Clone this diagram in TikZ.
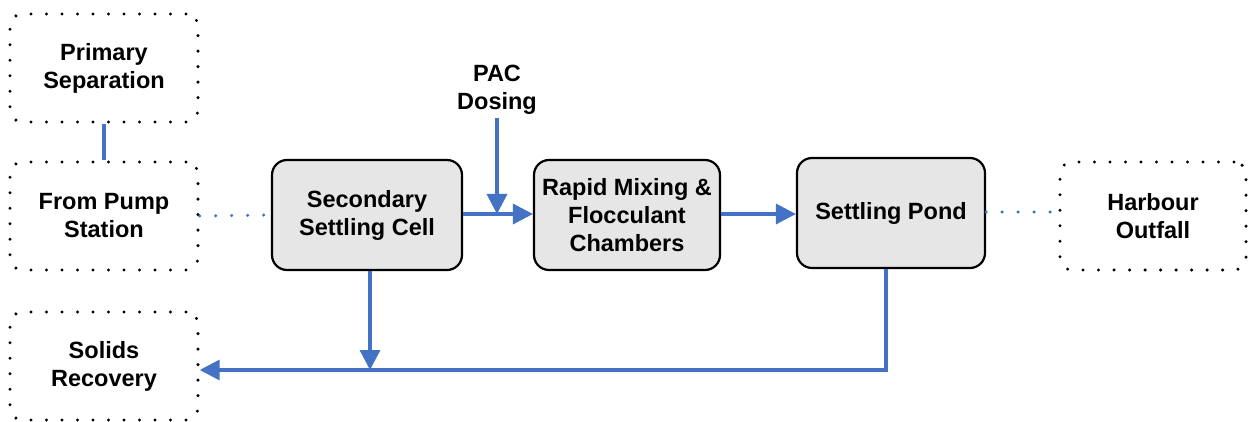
\documentclass[tikz,border=0pt]{standalone}
\usepackage{fontspec}
\setmainfont{Liberation Sans}
\usetikzlibrary{arrows.meta}
\definecolor{flow}{HTML}{4472C4}
\definecolor{boxfill}{HTML}{E6E6E6}
\begin{document}
\begin{tikzpicture}[x=1pt,y=-1pt,
  every node/.style={font=\fontsize{23.5}{28}\selectfont\bfseries, align=center},
  proc/.style={draw=black, line width=2.2pt, fill=boxfill, rounded corners=15pt, minimum width=190pt, minimum height=110pt, inner sep=0pt},
  ext/.style={draw=black, line width=3.4pt, dash pattern=on 0pt off 15.5pt, line cap=round, rounded corners=12pt, minimum width=188pt, minimum height=108pt, inner sep=0pt},
  flowline/.style={draw=flow, line width=3.4pt},
  flowarrow/.style={flowline, -{Triangle[length=20pt,width=20pt]}},
  flowdot/.style={draw=flow, line width=3.4pt, dash pattern=on 0pt off 16pt, line cap=round}
]
\useasboundingbox (0,0) rectangle (1248,422);
\node[ext] (prim) at (104,68) {Primary\\Separation};
\node[ext] (pump) at (104,216) {From Pump\\Station};
\node[ext] (solids) at (104,366) {Solids\\Recovery};
\node[ext, minimum width=186pt] (harb) at (1153,216) {Harbour\\Outfall};
\node[proc] (sec) at (367,215) {Secondary\\Settling Cell};
\node[proc, minimum width=186pt] (rapid) at (627,215) {Rapid Mixing \&\\Flocculant\\Chambers};
\node[proc, minimum width=188pt] (pond) at (891,213) {Settling Pond};
\node (pac) at (497,90) {PAC\\Dosing};
\coordinate (join) at (497,214);
\coordinate (pondcorner) at (886,370);
\coordinate (seccorner) at (370,370);

\draw[flowline] (prim.south) -- (pump.north);
\draw[flowdot] (pump.east) -- (sec.west);
\draw[flowarrow] (sec.east |- 0,214) -- (rapid.west |- 0,214);
\draw[flowarrow] (pac.south) -- (join);
\draw[flowarrow] (rapid.east |- 0,214) -- (pond.west |- 0,214);
\draw[flowdot] (pond.east |- 0,212) -- (harb.west |- 0,212);
\draw[flowarrow] (pond.south -| pondcorner) -- (pondcorner) -- (solids.east |- pondcorner);
\draw[flowarrow] (sec.south -| seccorner) -- (seccorner);
\end{tikzpicture}
\end{document}
